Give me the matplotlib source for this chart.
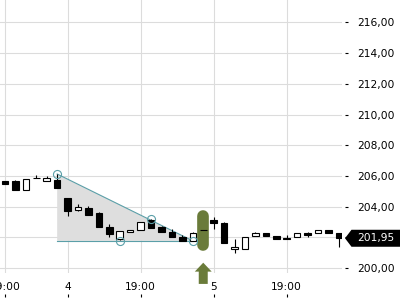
import numpy as np
import matplotlib
matplotlib.use('Agg')
import matplotlib.pyplot as plt
from matplotlib.patches import Polygon, FancyArrow

# hourly-ish candles, index based x axis
opens = [205.68, 205.70, 205.07, 205.85, 205.66, 205.74, 204.59, 203.77, 203.94, 203.62,
         202.70, 201.89, 202.34, 202.49, 203.14, 202.67, 202.38, 202.02, 201.80, 202.50,
         203.14, 202.97, 201.24, 201.25, 202.10, 202.28, 202.10, 201.99, 202.02, 202.28,
         202.32, 202.47, 202.30]
highs = [205.70, 205.72, 205.81, 206.07, 206.00, 206.10, 204.59, 204.16, 204.07, 203.68,
         202.85, 202.45, 202.51, 202.99, 203.20, 202.77, 202.54, 202.17, 202.38, 202.50,
         203.36, 203.03, 201.89, 202.03, 202.38, 202.28, 202.10, 202.17, 202.28, 202.38,
         202.47, 202.47, 202.30]
lows = [205.50, 205.11, 205.07, 205.85, 205.66, 205.20, 203.42, 203.70, 203.49, 202.71,
        202.00, 201.85, 202.34, 202.49, 202.60, 202.38, 202.02, 201.80, 201.78, 202.48,
        202.53, 201.62, 200.98, 201.25, 202.10, 202.12, 201.89, 201.89, 202.02, 202.05,
        202.32, 202.32, 201.40]
closes = [205.50, 205.11, 205.81, 205.87, 205.87, 205.20, 203.75, 203.97, 203.49, 202.71,
          202.22, 202.45, 202.51, 202.99, 202.60, 202.38, 202.02, 201.80, 202.28, 202.48,
          202.93, 201.62, 201.40, 202.03, 202.28, 202.12, 201.89, 201.89, 202.28, 202.17,
          202.47, 202.32, 201.95]

x_ticks = [0, 6, 13, 20, 27]
x_labels = ['19:00', '4', '19:00', '5', '19:00']
y_ticks = [200, 202, 204, 206, 208, 210, 212, 214, 216]
y_labels = ['200,00', '202,00', '204,00', '206,00', '208,00', '210,00', '212,00', '214,00', '216,00']

# descending triangle pattern
tri_x = [5, 18, 5]
tri_y = [206.13, 201.78, 201.78]
touch_x = [5, 11, 14, 18]
touch_y = [206.13, 201.75, 203.22, 201.78]

signal_idx = 19
signal_top = 203.79
signal_bottom = 201.12

last_price = closes[-1]
last_label = '201,95'

teal = '#5b9fa8'
olive = '#6a7b3a'


def main():
    fig = plt.figure(figsize=(4, 3), dpi=100)
    ax = fig.add_axes([0, 0.09, 0.855, 0.91])
    ax.set_xlim(-0.48, 32.3)
    ax.set_ylim(199.69, 217.45)

    ax.grid(True, color='#dcdcdc', lw=0.8)
    ax.set_axisbelow(True)
    for s in ax.spines.values():
        s.set_visible(False)

    # pattern
    ax.add_patch(Polygon(list(zip(tri_x, tri_y)), closed=True, facecolor='#dedede',
                         edgecolor='none', zorder=1))
    ax.plot(tri_x[:2], tri_y[:2], color=teal, lw=0.8, zorder=1.5)
    ax.plot([tri_x[2], tri_x[1]], [tri_y[2], tri_y[1]], color=teal, lw=0.8, zorder=1.5)
    ax.plot(touch_x, touch_y, 'o', ms=5.8, mfc='none', mec=teal, mew=0.8, zorder=4)

    # signal pill + arrow
    r = 0.38
    ax.plot([signal_idx, signal_idx], [signal_bottom + r, signal_top - r], color=olive,
            lw=8.4, solid_capstyle='round', zorder=2)
    ax.add_patch(FancyArrow(signal_idx, 198.98, 0, 1.38, width=0.86, head_width=1.62,
                            head_length=0.58, length_includes_head=True, color=olive,
                            lw=0, clip_on=False, zorder=2))

    # candles
    idx = np.arange(len(opens))
    o = np.array(opens)
    c = np.array(closes)
    ax.vlines(idx, lows, highs, color='black', lw=0.8, zorder=3)
    up = c > o
    body_lo = np.minimum(o, c)
    body_h = np.abs(c - o)
    ax.bar(idx[up], body_h[up], bottom=body_lo[up], width=0.63, facecolor='white',
           edgecolor='black', lw=0.8, zorder=3.5)
    ax.bar(idx[~up], body_h[~up], bottom=body_lo[~up], width=0.63, facecolor='black',
           edgecolor='black', lw=0.8, zorder=3.5)

    # axes
    ax.yaxis.tick_right()
    ax.set_yticks(y_ticks)
    ax.set_yticklabels(y_labels)
    ax.spines['right'].set_position(('outward', 2.2))
    ax.tick_params(axis='y', direction='out', length=2.2, width=0.8, pad=6.5, labelsize=7.7)
    ax.set_xticks(x_ticks)
    ax.set_xticklabels(x_labels)
    ax.spines['bottom'].set_position(('outward', 17.3))
    ax.tick_params(axis='x', direction='in', length=2.5, width=0.8, pad=-10.5, labelsize=7.7)

    # last price tag
    tr = ax.get_yaxis_transform()
    px = 1.0 / 342
    h = 8.5 / 15.375
    tag = [(1 + 3 * px, last_price), (1 + 9.5 * px, last_price + h), (1 + 60 * px, last_price + h),
           (1 + 60 * px, last_price - h), (1 + 9.5 * px, last_price - h)]
    ax.add_patch(Polygon(tag, closed=True, transform=tr, facecolor='black', edgecolor='none',
                         clip_on=False, zorder=5))
    ax.text(1 + 14.7 * px, last_price, last_label, transform=tr, color='white', fontsize=7.7,
            va='center', ha='left', zorder=6)

    fig.savefig('out.png', dpi=100)


if __name__ == '__main__':
    main()
